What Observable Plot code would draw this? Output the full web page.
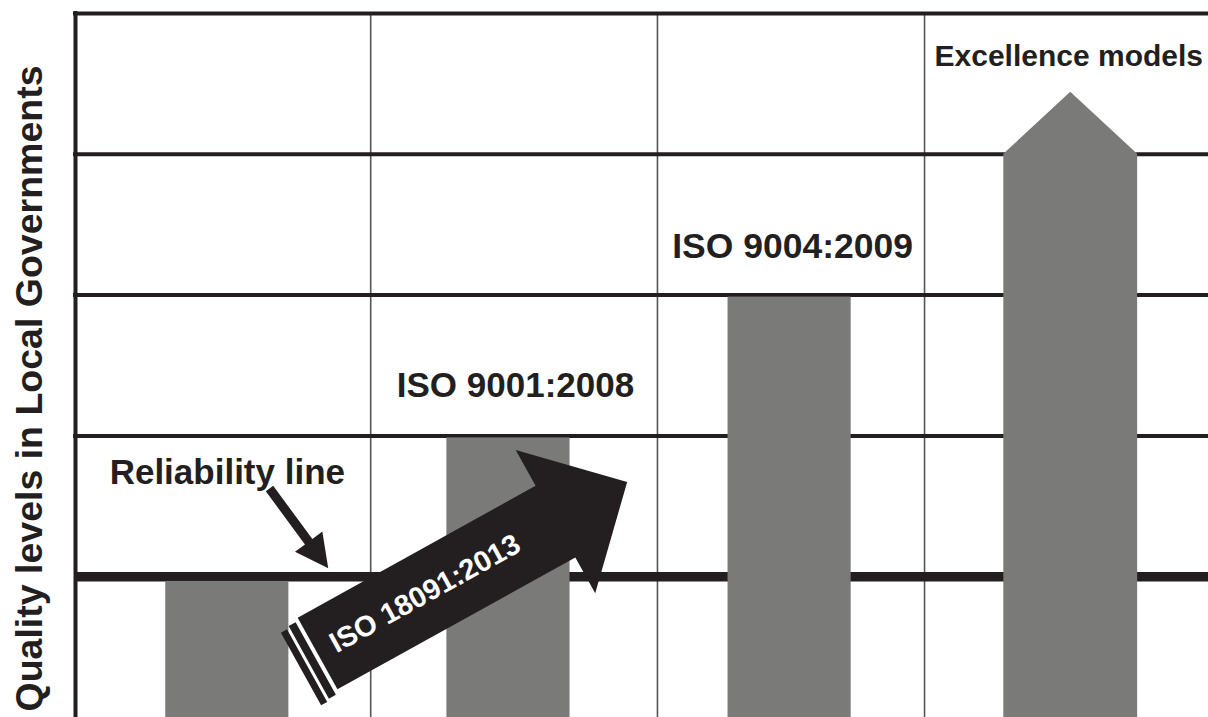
<!DOCTYPE html>
<html>
<head>
<meta charset="utf-8">
<script src="https://cdn.jsdelivr.net/npm/d3@7"></script>
<script src="https://cdn.jsdelivr.net/npm/@observablehq/plot@0.6"></script>
<style>
  html, body { margin: 0; padding: 0; background: #ffffff; }
  #chart svg { display: block; }
</style>
</head>
<body>
<div id="chart"></div>
<script>
// ---------- data ----------
const stageLabels = ["Reliability line", "ISO 9001:2008", "ISO 9004:2009", "Excellence models"];
const stagePositions = [1, 2, 3, 4];
const stageLevels = [1, 2, 3, 4];
const excellenceTip = 4.44;            // tip of the arrow-shaped top bar
const gridLevels = [2, 3, 4, 5];        // thin horizontal level lines
const reliabilityLevel = 1;             // thick reliability line
const columnEdges = [1.51, 2.53, 3.48];  // vertical separators
const xDomain = [0.46, 4.49];
const yDomain = [0, 5];
const axisTitle = "Quality levels in Local Governments";
const arrowLabel = "ISO 18091:2013";
const bigArrowTail = [{x: 1.321, y: 0.4545}];
const bigArrowText = [{x: 1.703, y: 0.879, label: arrowLabel}];
const pointerTail = [{x: 1.150, y: 1.626}];

// ---------- styling constants ----------
const BLACK = "#231f20";
const GRAY = "#7a7a78";
const FONT = "'Liberation Sans', Arial, Helvetica, sans-serif";
const BAR_HALF = 0.219;
const TOP_BAR_HALF = 0.238;

const table = stageLabels.map((s, i) => ({stage: s, pos: stagePositions[i], level: stageLevels[i]}));
const plainBars = table.slice(0, 3);
const topBar = table[3];
const topBarProfile = [
  {x: topBar.pos - TOP_BAR_HALF, y: topBar.level},
  {x: topBar.pos, y: excellenceTip},
  {x: topBar.pos + TOP_BAR_HALF, y: topBar.level}
];

// big black arrow with striped tail, drawn pointing "up" in local coords
const bigArrowShape = {
  draw(ctx, l) {
    const hw = 41, headHw = 82, headLen = 82;
    const s = l - headLen;
    ctx.moveTo(-hw, 0);
    ctx.lineTo(-hw, -s);
    ctx.lineTo(-headHw, -s);
    ctx.lineTo(0, -l);
    ctx.lineTo(headHw, -s);
    ctx.lineTo(hw, -s);
    ctx.lineTo(hw, 0);
    ctx.closePath();
    // tail stripes
    ctx.moveTo(-38, 4); ctx.lineTo(45, 4); ctx.lineTo(45, 12); ctx.lineTo(-38, 12); ctx.closePath();
    ctx.moveTo(-36, 15); ctx.lineTo(47, 15); ctx.lineTo(47, 22); ctx.lineTo(-36, 22); ctx.closePath();
  }
};
const pointerShape = {
  draw(ctx, l) {
    const hw = 4.6, headHw = 17, headLen = 33;
    const s = l - headLen;
    ctx.moveTo(-hw, 0);
    ctx.lineTo(-hw, -s);
    ctx.lineTo(-headHw, -s);
    ctx.lineTo(0, -l);
    ctx.lineTo(headHw, -s);
    ctx.lineTo(hw, -s);
    ctx.lineTo(hw, 0);
    ctx.closePath();
  }
};

const labelLayout = [
  {dx: 0, dy: -93, size: 35, y: reliabilityLevel},
  {dx: 7, dy: -39, size: 35, y: stageLevels[1]},
  {dx: 3, dy: -37, size: 35.5, y: stageLevels[2]},
  {dx: -2, dy: -26, size: 30, y: excellenceTip}
];
const labelMarks = table.map((d, i) => Plot.text([d], {
  x: "pos", y: () => labelLayout[i].y, text: "stage",
  dx: labelLayout[i].dx, dy: labelLayout[i].dy,
  fontSize: labelLayout[i].size, fontWeight: "bold", fill: BLACK,
  textAnchor: "middle", lineAnchor: "bottom"
}));

const chart = Plot.plot({
  width: 1208,
  height: 717,
  marginLeft: 75,
  marginRight: 0,
  marginTop: 13,
  marginBottom: 0,
  x: {type: "linear", domain: xDomain, axis: null},
  y: {type: "linear", domain: yDomain, axis: null},
  style: {fontFamily: FONT, background: "#ffffff", color: BLACK},
  marks: [
    Plot.ruleX(columnEdges, {stroke: "#555555", strokeWidth: 1.6}),
    Plot.ruleY(gridLevels, {stroke: BLACK, strokeWidth: 4, insetLeft: -2}),
    Plot.ruleY([reliabilityLevel], {stroke: BLACK, strokeWidth: 9.5}),
    Plot.ruleX([xDomain[0]], {stroke: BLACK, strokeWidth: 4, insetTop: -2}),
    Plot.rectY(plainBars.filter(d => d.level > reliabilityLevel), {
      x1: d => d.pos - BAR_HALF, x2: d => d.pos + BAR_HALF, y1: 0, y2: "level",
      fill: GRAY, insetTop: 2
    }),
    Plot.rectY(plainBars.filter(d => d.level <= reliabilityLevel), {
      x1: d => d.pos - BAR_HALF, x2: d => d.pos + BAR_HALF, y1: 0, y2: "level",
      fill: GRAY, insetTop: 5
    }),
    Plot.areaY(topBarProfile, {x: "x", y1: 0, y2: "y", fill: GRAY}),
    Plot.vector(pointerTail, {
      x: "x", y: "y", length: 99, rotate: 143.6, anchor: "start",
      shape: pointerShape, fill: BLACK, stroke: "none"
    }),
    Plot.vector(bigArrowTail, {
      x: "x", y: "y", length: 354, rotate: 61, anchor: "start",
      shape: bigArrowShape, fill: BLACK, stroke: "none"
    }),
    Plot.text(bigArrowText, {
      x: "x", y: "y", text: "label", rotate: -29,
      fontSize: 29, fontWeight: "bold", fill: "#ffffff",
      textAnchor: "middle", lineAnchor: "middle"
    }),
    ...labelMarks,
    Plot.text([axisTitle], {
      frameAnchor: "left", text: d => d, rotate: -90,
      dx: -34, dy: 23, fontSize: 37.5, fontWeight: "bold", fill: BLACK,
      textAnchor: "middle", lineAnchor: "bottom"
    })
  ]
});
document.getElementById("chart").appendChild(chart);
</script>
</body>
</html>
